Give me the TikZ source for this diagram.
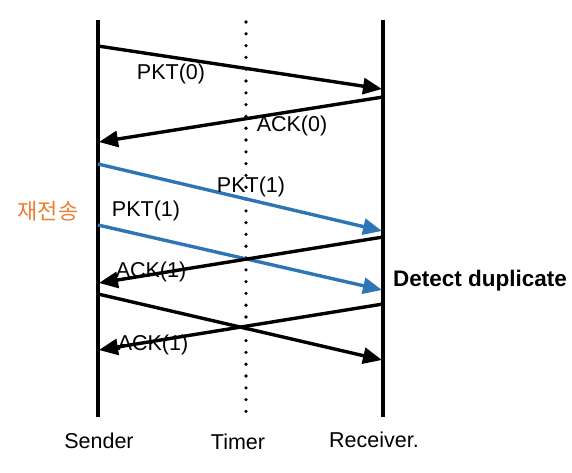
\documentclass[tikz,border=0pt]{standalone}
\usepackage{fontspec}
\setmainfont{Liberation Sans}
\newfontfamily\krfont{Noto Sans CJK KR}
\usetikzlibrary{arrows.meta}
\definecolor{pktblue}{RGB}{46,117,182}
\definecolor{korange}{RGB}{237,125,49}
\tikzset{
  lifeline/.style={line width=3.6pt},
  msg/.style={line width=3.4pt,-{Triangle[length=19pt,width=16pt]}},
  lbl/.style={font=\fontsize{21.5}{24}\selectfont,inner sep=0pt}
}
\begin{document}
\begin{tikzpicture}[x=1pt,y=-1pt]
\useasboundingbox (0,0) rectangle (572,472);

% Lifelines
\coordinate (st) at (98,20);  \coordinate (sb) at (98,417);
\coordinate (rt) at (383,20); \coordinate (rb) at (383,417);
\coordinate (tt) at (246,22); \coordinate (tb) at (246,412);
\draw[lifeline] (st) -- (sb);
\draw[lifeline] (rt) -- (rb);
\draw[line width=3.6pt,line cap=round,dash pattern=on 0pt off 11.8pt] (tt) -- (tb);

% Lifeline labels
\node[lbl] (sender) at (99,441) {Sender};
\node[lbl] (timer) at (238,442) {Timer};
\node[lbl] (receiver) at (374,440) {Receiver.};

% Message end points
\coordinate (p0s) at (98,46);   \coordinate (p0r) at (382,89);
\coordinate (a0r) at (383,97);  \coordinate (a0s) at (99,142);
\coordinate (p1s) at (98,164);  \coordinate (p1r) at (382,231);
\coordinate (p2s) at (98,225);  \coordinate (p2r) at (382,290);
\coordinate (a1r) at (383,237); \coordinate (a1s) at (99,283);
\coordinate (p3s) at (98,294);  \coordinate (p3r) at (382,360);
\coordinate (a2r) at (383,304); \coordinate (a2s) at (99,350);

% Messages
\draw[msg] (p0s) -- (p0r);
\draw[msg] (a0r) -- (a0s);
\draw[msg,pktblue] (p1s) -- (p1r);
\draw[msg,pktblue] (p2s) -- (p2r);
\draw[msg] (a1r) -- (a1s);
\draw[msg] (p3s) -- (p3r);
\draw[msg] (a2r) -- (a2s);

% Message labels
\node[lbl] (pkt0) at (171,74) {PKT(0)};
\node[lbl] (ack0) at (292,126) {ACK(0)};
\node[lbl] (pkt1a) at (251,187) {PKT(1)};
\node[lbl] (pkt1b) at (146,211) {PKT(1)};
\node[lbl] (ack1a) at (151,272) {ACK(1)};
\node[lbl] (ack1b) at (153,345) {ACK(1)};

% Notes
\node[lbl,font=\fontsize{22.5}{25}\selectfont\bfseries] (dup) at (480,281) {Detect duplicate};
\node[lbl,font=\fontsize{22}{25}\selectfont\krfont,text=korange] (resend) at (48,211) {재전송};

\end{tikzpicture}
\end{document}
